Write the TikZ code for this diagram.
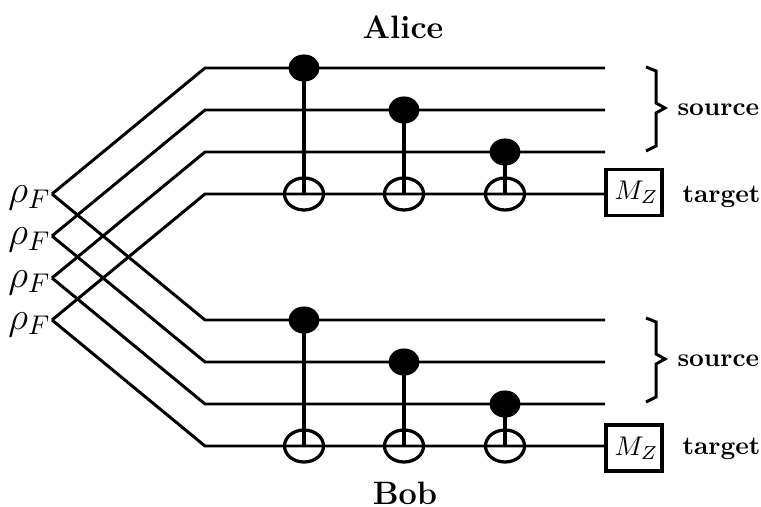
\documentclass[tikz,border=0pt]{standalone}
\usepackage{amsmath, amssymb}
\usetikzlibrary{shapes.geometric, positioning}
\tikzset{
  wire/.style={line width=1.1pt},
  cnotline/.style={line width=1.2pt},
  ctrldot/.style={draw=black, fill=black, ellipse, minimum width=30*0.13mm, minimum height=26*0.13mm, inner sep=0pt},
  targetring/.style={draw=black, line width=1.2pt, ellipse, minimum width=39*0.13mm, minimum height=32*0.13mm, inner sep=0pt},
  measbox/.style={draw=black, line width=1.15pt, minimum width=56*0.13mm, minimum height=46*0.13mm, inner sep=0pt},
  statelabel/.style={font=\fontsize{13.6}{16}\selectfont, inner sep=0pt},
  sidelabel/.style={font=\bfseries\fontsize{9.5}{11}\selectfont, inner sep=0pt, anchor=base west},
  partylabel/.style={font=\bfseries\large, inner sep=0pt}
}
\newcommand{\measlabel}{\raisebox{-0.9pt}{\hspace{1.8pt}$M_Z$}}
\begin{document}
\begin{tikzpicture}[x=0.13mm, y=-0.13mm]
  \useasboundingbox (0,0) rectangle (761,507);

  % Party names
  \node[partylabel] (alice) at (403,27) {Alice};
  \node[partylabel] (bob) at (405,493) {Bob};

  % Input states
  \node[statelabel] (rho1) at (29.5,198) {$\rho_F$};
  \node[statelabel] (rho2) at (29.5,240) {$\rho_F$};
  \node[statelabel] (rho3) at (29.5,282.5) {$\rho_F$};
  \node[statelabel] (rho4) at (29.5,324.5) {$\rho_F$};
  \coordinate (in1) at (52,194);
  \coordinate (in2) at (52,236);
  \coordinate (in3) at (52,278);
  \coordinate (in4) at (52,320);

  % Measurements
  \node[measbox] (measA) at (634,192.5) {\measlabel};
  \node[measbox] (measB) at (634,448) {\measlabel};

  % Alice wires
  \coordinate (aend1) at (605,68);
  \coordinate (aend2) at (605,110);
  \coordinate (aend3) at (605,152);
  \draw[wire] (in1) -- (205,68) -- (aend1);
  \draw[wire] (in2) -- (205,110) -- (aend2);
  \draw[wire] (in3) -- (205,152) -- (aend3);
  \draw[wire] (in4) -- (205,194) -- (measA.west |- 0,194);

  % Bob wires
  \coordinate (bend1) at (605,320);
  \coordinate (bend2) at (605,362);
  \coordinate (bend3) at (605,404);
  \draw[wire] (in1) -- (205,320) -- (bend1);
  \draw[wire] (in2) -- (205,362) -- (bend2);
  \draw[wire] (in3) -- (205,404) -- (bend3);
  \draw[wire] (in4) -- (205,446) -- (measB.west |- 0,446);

  % Alice gates
  \node[ctrldot] (actrl1) at (304,68) {};
  \node[ctrldot] (actrl2) at (404,110) {};
  \node[ctrldot] (actrl3) at (505,152) {};
  \node[targetring] (atgt1) at (304,194) {};
  \node[targetring] (atgt2) at (404,194) {};
  \node[targetring] (atgt3) at (505,194) {};
  \draw[cnotline] (actrl1.center) -- (atgt1.center);
  \draw[cnotline] (actrl2.center) -- (atgt2.center);
  \draw[cnotline] (actrl3.center) -- (atgt3.center);

  % Bob gates
  \node[ctrldot] (bctrl1) at (304,320) {};
  \node[ctrldot] (bctrl2) at (404,362) {};
  \node[ctrldot] (bctrl3) at (505,404) {};
  \node[targetring] (btgt1) at (304,446) {};
  \node[targetring] (btgt2) at (404,446) {};
  \node[targetring] (btgt3) at (505,446) {};
  \draw[cnotline] (bctrl1.center) -- (btgt1.center);
  \draw[cnotline] (bctrl2.center) -- (btgt2.center);
  \draw[cnotline] (bctrl3.center) -- (btgt3.center);

  % Braces and side labels
  \draw[wire] (646,67) -- (656,71) -- (656,103) -- (665,108) -- (656,113) -- (656,146) -- (646,151);
  \draw[wire] (646,318) -- (656,322) -- (656,354) -- (665,359) -- (656,364) -- (656,397) -- (646,402);
  \node[sidelabel] (srcA) at (677,115.5) {source};
  \node[sidelabel] (srcB) at (677,366.5) {source};
  \node[sidelabel] (tgtA) at (682,203) {target};
  \node[sidelabel] (tgtB) at (682,454.5) {target};
\end{tikzpicture}
\end{document}
